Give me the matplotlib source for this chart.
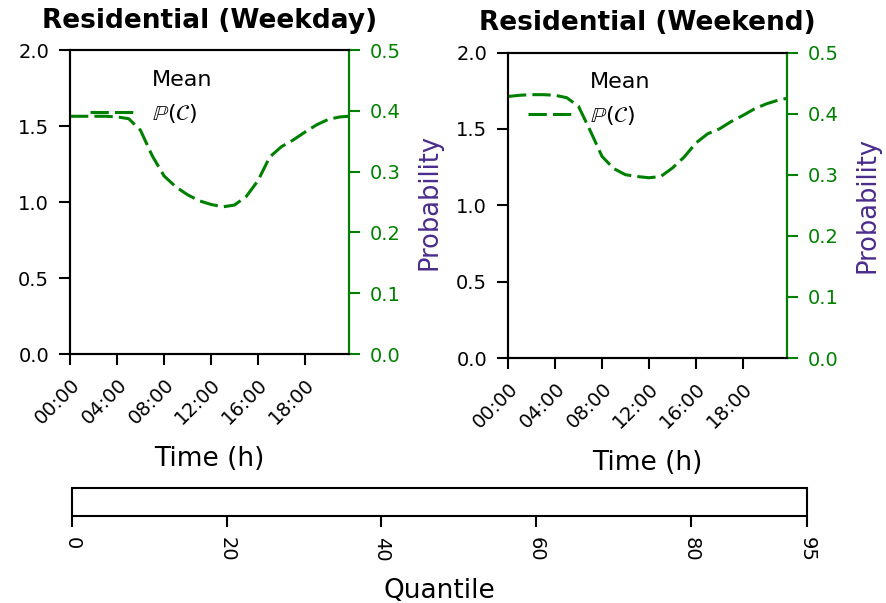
import matplotlib
matplotlib.use("Agg")
import matplotlib.pyplot as plt
from matplotlib.colors import ListedColormap, Normalize
from matplotlib.cm import ScalarMappable
from matplotlib.offsetbox import TextArea

# ---------------- data ----------------
titles = ["Residential (Weekday)", "Residential (Weekend)"]
time_idx = [0, 4, 8, 12, 16, 20, 24, 28, 32, 36, 40, 44, 48, 52, 56, 60,
            64, 68, 72, 76, 80, 84, 88, 92, 95]
weekday_prob = [0.391, 0.391, 0.391, 0.391, 0.390, 0.387, 0.368, 0.326,
                0.293, 0.275, 0.262, 0.252, 0.246, 0.242, 0.245, 0.259,
                0.285, 0.324, 0.341, 0.352, 0.365, 0.377, 0.386, 0.390,
                0.391]
weekend_prob = [0.428, 0.430, 0.431, 0.431, 0.430, 0.426, 0.412, 0.372,
                0.330, 0.310, 0.300, 0.297, 0.295, 0.297, 0.311, 0.329,
                0.352, 0.367, 0.375, 0.387, 0.397, 0.408, 0.416, 0.422,
                0.425]
series = [weekday_prob, weekend_prob]
time_tick_pos = [0, 16, 32, 48, 64, 80]
time_tick_labels = ["00:00", "04:00", "08:00", "12:00", "16:00", "18:00"]
left_ticks = [0.0, 0.5, 1.0, 1.5, 2.0]
right_ticks = [0.0, 0.1, 0.2, 0.3, 0.4, 0.5]
quantile_ticks = [0, 20, 40, 60, 80, 95]

GREEN = "green"
PURPLE = "#4a2c8c"
TICK_KW = dict(labelsize=14, length=8, width=1.5, pad=7)

fig = plt.figure(figsize=(8.86, 6.03), dpi=100)

positions = [
    [70 / 886, 1 - 354 / 603, 279 / 886, 304 / 603],
    [508 / 886, 1 - 358 / 603, 279 / 886, 305.5 / 603],
]

for pos, title, vals in zip(positions, titles, series):
    ax = fig.add_axes(pos)
    ax.set_xlim(0, 95)
    ax.set_ylim(0, 2.0)
    ax.set_yticks(left_ticks)
    ax.set_yticklabels([f"{v:.1f}" for v in left_ticks])
    ax.set_xticks(time_tick_pos)
    ax.set_xticklabels(time_tick_labels, rotation=45, ha="right",
                       rotation_mode="anchor")
    ax.tick_params(axis="both", **TICK_KW)
    for sp in ax.spines.values():
        sp.set_linewidth(1.5)
    ax.set_xlabel("Time (h)", fontsize=19, labelpad=13)
    ax.set_title(title, fontsize=19, fontweight="bold", pad=16)

    ax2 = ax.twinx()
    ax2.plot(time_idx, vals, color=GREEN, linewidth=2.2,
             linestyle=(0, (6, 2.0)), label="Mean\n$\\mathbb{P}(\\mathcal{C})$")
    ax2.set_ylim(0, 0.5)
    ax2.set_yticks(right_ticks)
    ax2.set_yticklabels([f"{v:.1f}" for v in right_ticks])
    ax2.tick_params(axis="y", colors=GREEN, **TICK_KW)
    for sp in ax2.spines.values():
        sp.set_linewidth(1.5)
    ax2.spines["right"].set_color(GREEN)
    ax2.set_ylabel("Probability", fontsize=18.5, color=PURPLE, labelpad=11)
    leg = ax2.legend(loc="upper left", frameon=False, fontsize=16)
    for t in leg.get_texts():
        t.set_linespacing(1.65)
    # align the handle with the last line of the two-line label
    for child in leg.get_children()[0].findobj(
            lambda o: isinstance(o, TextArea)):
        child._multilinebaseline = False

cax = fig.add_axes([72 / 886, 1 - 516 / 603, 735 / 886, 28 / 603])
sm = ScalarMappable(norm=Normalize(0, 95), cmap=ListedColormap(["white"]))
cb = fig.colorbar(sm, cax=cax, orientation="horizontal", ticks=quantile_ticks)
cb.outline.set_linewidth(1.5)
cax.tick_params(**TICK_KW)
for lab in cax.get_xticklabels():
    lab.set_rotation(270)
cb.set_label("Quantile", fontsize=19, labelpad=12)

fig.savefig("out.png", dpi=100)
